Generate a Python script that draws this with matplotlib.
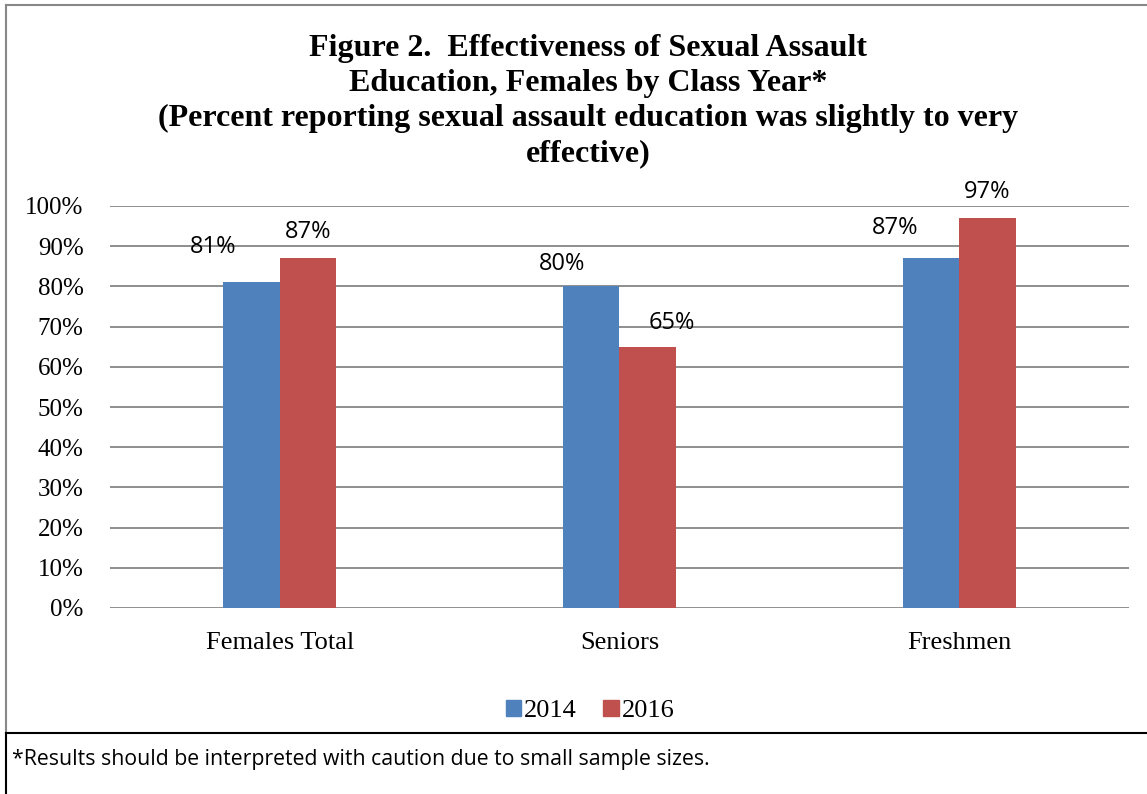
import matplotlib.pyplot as plt
import numpy as np
from matplotlib.patches import Rectangle
from matplotlib.lines import Line2D

# data
categories = ["Females Total", "Seniors", "Freshmen"]
years = ["2014", "2016"]
vals_2014 = [81, 80, 87]
vals_2016 = [87, 65, 97]
title = ("Figure 2.  Effectiveness of Sexual Assault\n"
         "Education, Females by Class Year*\n"
         "(Percent reporting sexual assault education was slightly to very\n"
         "effective)")
footnote = "*Results should be interpreted with caution due to small sample sizes."

blue = "#4F81BD"
red = "#C0504D"
grid = "#868686"
serif = "Liberation Serif"
sans = "Open Sans"

fig = plt.figure(figsize=(11.47, 7.94), dpi=100)
W, H = 1147, 794

def fx(px):
    return px / W

def fy(py):
    return 1 - py / H

ax = fig.add_axes([fx(110), fy(608), fx(1129) - fx(110), fy(206) - fy(608)])

x = np.arange(len(categories))
w = 1 / 6
ax.bar(x - w / 2, vals_2014, w, color=blue, zorder=3)
ax.bar(x + w / 2, vals_2016, w, color=red, zorder=3)

ax.set_xlim(-0.5, 2.5)
ax.set_ylim(0, 100)
ax.set_yticks(np.arange(0, 101, 10))
ax.set_yticklabels([f"{v}%" for v in range(0, 101, 10)], fontfamily=serif, fontsize=18)
ax.set_xticks(x)
ax.set_xticklabels(categories, fontfamily=serif, fontsize=19)
ax.tick_params(axis="y", length=0, pad=19)
ax.tick_params(axis="x", length=0, pad=17)
for s in ax.spines.values():
    s.set_visible(False)
ax.yaxis.grid(True, color=grid, linewidth=1.3, zorder=0)
ax.set_axisbelow(True)

# data labels, moved by hand in the original (pixels)
dx_2014 = [-38, -29, -36]
dy_2014 = [35, 22, 30]
dx_2016 = [0, 24, 0]
dy_2016 = [26, 24, 26]
for i, v in enumerate(vals_2014):
    ax.annotate(f"{v}%", (x[i] - w / 2, v), xytext=(dx_2014[i] * 0.72, dy_2014[i] * 0.72),
                textcoords="offset points", ha="center", va="center",
                fontfamily=sans, fontsize=17)
for i, v in enumerate(vals_2016):
    ax.annotate(f"{v}%", (x[i] + w / 2, v), xytext=(dx_2016[i] * 0.72, dy_2016[i] * 0.72),
                textcoords="offset points", ha="center", va="center",
                fontfamily=sans, fontsize=17)

fig.text(fx(588), fy(101), title, ha="center", va="center", fontfamily=serif,
         fontweight="bold", fontsize=23, linespacing=1.28)

# legend
handles = [Rectangle((0, 0), 1, 1, color=blue), Rectangle((0, 0), 1, 1, color=red)]
fig.legend(handles, years, loc="center", bbox_to_anchor=(fx(590), fy(711)), ncol=2,
           frameon=False, prop={"family": serif, "size": 19}, handlelength=0.6,
           handleheight=0.6, handletextpad=0.1, columnspacing=1.0)

# borders
fig.add_artist(Line2D([fx(6), fx(6)], [fy(5), fy(733)], color="#888888", lw=1.5))
fig.add_artist(Line2D([fx(6), fx(1147)], [fy(5), fy(5)], color="#888888", lw=1.5))
fig.add_artist(Line2D([fx(6), fx(6)], [fy(733), fy(794)], color="black", lw=1.5))
fig.add_artist(Line2D([fx(6), fx(1147)], [fy(733), fy(733)], color="black", lw=1.5))

fig.text(fx(12), fy(760), footnote, ha="left", va="center", fontfamily=sans, fontsize=15.3)

fig.savefig("out.png", dpi=100)
